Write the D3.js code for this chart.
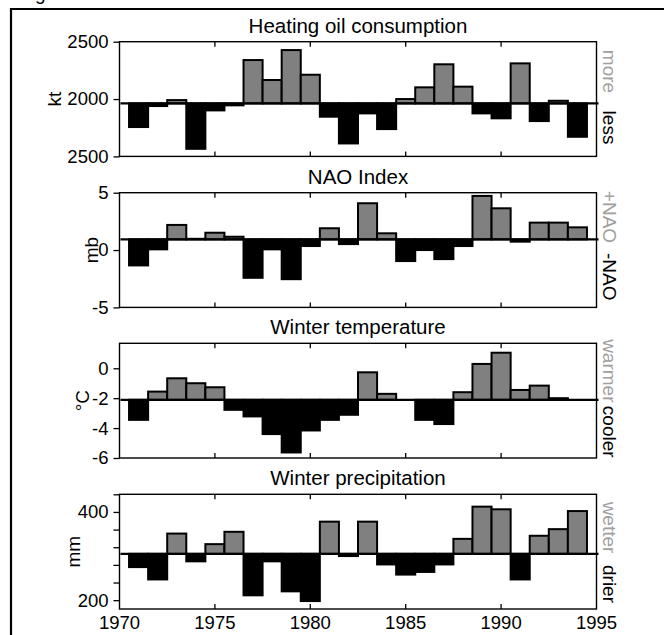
<!DOCTYPE html>
<html>
<head>
<meta charset="utf-8">
<title>Heating oil, NAO, winter temperature and precipitation</title>
<script src="https://d3js.org/d3.v7.min.js"></script>
<style>
body { margin: 0; background: #fff; }
svg text { font-family: "Liberation Sans", Arial, sans-serif; fill: #000; }
.frame { fill: none; stroke: #000; stroke-width: 1.4; }
.bar { stroke: #000; stroke-width: 2; }
</style>
</head>
<body>
<div id="chart"></div>
<script>
// categories
var years = [1971, 1972, 1973, 1974, 1975, 1976, 1977, 1978, 1979, 1980, 1981, 1982,
             1983, 1984, 1985, 1986, 1987, 1988, 1989, 1990, 1991, 1992, 1993, 1994];

// series
var oilValues = [1756, 1939, 1991, 1566, 1901, 1945, 2340, 2166, 2427, 2212, 1846, 1613,
                 1875, 1738, 2000, 2102, 2303, 2108, 1875, 1832, 2311, 1808, 1985, 1671];
var oilBase = 1962;
var naoValues = [-1.34, 0.06, 2.19, 0.98, 1.51, 1.16, -2.42, 0.06, -2.54, 0.35, 1.9, 0.52,
                 4.08, 1.46, -0.96, 0.0, -0.79, 0.35, 4.72, 3.64, 0.73, 2.39, 2.39, 1.98];
var naoBase = 0.93;
var tempValues = [-3.45, -1.56, -0.67, -1.0, -1.27, -2.78, -3.22, -4.4, -5.63, -4.16, -3.45, -3.11,
                  -0.27, -1.71, -2.11, -3.45, -3.73, -1.6, 0.29, 1.04, -1.45, -1.16, -2.0, -2.11];
var tempBase = -2.11;
var precipValues = [275, 247, 351, 288, 327, 355, 211, 288, 220, 198, 378, 300,
                    378, 281, 258, 264, 281, 339, 412, 406, 247, 346, 361, 402];
var precipBase = 305;

// tick labels
var xTicks = [1970, 1975, 1980, 1985, 1990, 1995];
var oilTicks = [2500, 2000, 1500];
var oilTickLabels = ["2500", "2000", "2500"];
var naoTicks = [5, 0, -5];
var naoTickLabels = ["5", "0", "-5"];
var tempTicks = [0, -2, -4, -6];
var tempTickLabels = ["0", "-2", "-4", "-6"];
var precipTicks = [200, 240, 280, 320, 360, 400, 440];
var precipTickLabels = ["200", "", "", "", "", "400", ""];

var titles = ["Heating oil consumption", "NAO Index", "Winter temperature", "Winter precipitation"];
var units = ["kt", "mb", "\u00B0C", "mm"];
var upLabels = ["more", "+NAO", "warmer", "wetter"];
var downLabels = ["less", "-NAO", "cooler", "drier"];

var panels = [
  {values: oilValues, base: oilBase, domain: [1500, 2500], ticks: oilTicks, tickLabels: oilTickLabels},
  {values: naoValues, base: naoBase, domain: [-5, 5], ticks: naoTicks, tickLabels: naoTickLabels},
  {values: tempValues, base: tempBase, domain: [-6, 1.67], ticks: tempTicks, tickLabels: tempTickLabels},
  {values: precipValues, base: precipBase, domain: [180, 440], ticks: precipTicks, tickLabels: precipTickLabels}
];

// layout
var W = 664, H = 635;
var left = 119.5, right = 596.5;
var panelTops = [41.7, 192.7, 343.3, 494.3];
var panelH = 114.7;
var unitX = [54, 91, 82, 73];
var sideOffsets = [[29.8, 85.8], [24.3, 84], [27.5, 88.4], [33.2, 89.7]];

var svg = d3.select("#chart").append("svg")
    .attr("width", W)
    .attr("height", H);

// outer frame (cut off on the right and bottom) + stray caption glyph
svg.append("path")
    .attr("d", "M11,660V9H700")
    .attr("fill", "none")
    .attr("stroke", "#000")
    .attr("stroke-width", 2.2);
svg.append("text").attr("x", 35).attr("y", -0.5)
    .style("font-size", "19px").text("g");

var x = d3.scaleLinear().domain([1970, 1995]).range([left, right]);

panels.forEach(function(p, i) {
  var top = panelTops[i], bottom = top + panelH;
  var y = d3.scaleLinear().domain(p.domain).range([bottom, top]);
  var g = svg.append("g");

  // title
  g.append("text")
      .attr("x", (left + right) / 2)
      .attr("y", top - 9.2)
      .attr("text-anchor", "middle")
      .style("font-size", "20.5px")
      .text(titles[i]);

  // bars
  g.selectAll(".bar")
    .data(p.values)
    .enter()
    .append("rect")
      .attr("class", "bar")
      .attr("x", function(d, j) { return x(years[j] - 0.5); })
      .attr("width", function(d, j) { return x(years[j] + 0.5) - x(years[j] - 0.5); })
      .attr("y", function(d) { return Math.min(y(d), y(p.base)); })
      .attr("height", function(d) { return Math.abs(y(d) - y(p.base)); })
      .attr("fill", function(d) { return d >= p.base ? "#808080" : "#000"; });

  // baseline
  g.append("line")
      .attr("x1", x(1970) + 1).attr("x2", x(1995) + 2)
      .attr("y1", y(p.base)).attr("y2", y(p.base))
      .attr("stroke", "#000").attr("stroke-width", 2.2);

  // box
  g.append("rect")
      .attr("class", "frame")
      .attr("x", left).attr("y", top)
      .attr("width", right - left).attr("height", panelH);

  // y axis: ticks outward
  var yAxis = d3.axisLeft(y)
      .tickValues(p.ticks)
      .tickFormat(function(d, j) { return p.tickLabels[j]; })
      .tickSize(6)
      .tickPadding(5);
  var ya = g.append("g")
      .attr("transform", "translate(" + left + ",0)")
      .call(yAxis);
  ya.select(".domain").remove();
  ya.selectAll(".tick line").attr("stroke", "#000").attr("stroke-width", 1.3);
  ya.selectAll(".tick text")
      .style("font-size", "18.5px")
      .style("font-family", "'Liberation Sans', Arial, sans-serif");

  // x ticks inward, top and bottom
  var inner = xTicks.slice(1, -1);
  g.selectAll(".xt-top").data(inner).enter().append("line")
      .attr("x1", function(d) { return x(d); }).attr("x2", function(d) { return x(d); })
      .attr("y1", top).attr("y2", top + 5)
      .attr("stroke", "#000").attr("stroke-width", 1.3);
  g.selectAll(".xt-bot").data(inner).enter().append("line")
      .attr("x1", function(d) { return x(d); }).attr("x2", function(d) { return x(d); })
      .attr("y1", bottom).attr("y2", bottom - 5)
      .attr("stroke", "#000").attr("stroke-width", 1.3);

  // unit label
  var cy = top + panelH / 2;
  g.append("text")
      .attr("transform", "translate(" + unitX[i] + "," + cy + ") rotate(-90)")
      .attr("text-anchor", "middle")
      .attr("dy", "0.35em")
      .style("font-size", "19px")
      .text(units[i]);

  // side labels
  g.append("text")
      .attr("transform", "translate(603," + (top + sideOffsets[i][0]) + ") rotate(90)")
      .attr("text-anchor", "middle")
      .style("font-size", "19px")
      .style("fill", "#a0a0a0")
      .text(upLabels[i]);
  g.append("text")
      .attr("transform", "translate(603," + (top + sideOffsets[i][1]) + ") rotate(90)")
      .attr("text-anchor", "middle")
      .style("font-size", "19px")
      .text(downLabels[i]);

  // year labels under the last panel
  if (i === panels.length - 1) {
    g.selectAll(".xl").data(xTicks).enter().append("text")
        .attr("x", function(d) { return x(d); })
        .attr("y", bottom + 20)
        .attr("text-anchor", "middle")
        .style("font-size", "18.5px")
        .text(function(d) { return d; });
  }
});
</script>
</body>
</html>
